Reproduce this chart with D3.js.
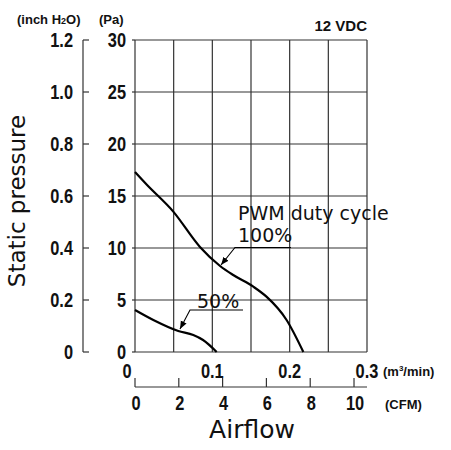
<!DOCTYPE html>
<html>
<head>
<meta charset="utf-8">
<script src="https://cdn.jsdelivr.net/npm/d3@7"></script>
<style>
  body { margin: 0; background: #fff; }
  .tick-label { font-family: "Liberation Sans", sans-serif; font-weight: bold; font-size: 21px; fill: #111; }
  .unit { font-family: "Liberation Sans", sans-serif; font-weight: bold; font-size: 13px; fill: #111; }
  .title { font-family: "DejaVu Sans", sans-serif; fill: #111; }
</style>
</head>
<body>
<svg width="451" height="450"></svg>
<script>
// airflow in m3/min, static pressure in Pa
const flow100 = [0, 0.015, 0.0495, 0.084, 0.110, 0.127, 0.153, 0.170, 0.196, 0.2177];
const pres100 = [17.3, 16.1, 13.5, 10.1, 8.27, 7.4, 6.28, 5.32, 3.08, 0];
const flow50 = [0, 0.0237, 0.056, 0.0754, 0.088, 0.1056];
const pres50 = [4.04, 3.08, 2.02, 1.63, 1.15, 0];

const paTicks = [0, 5, 10, 15, 20, 25, 30];
const inchTicks = [0, 0.2, 0.4, 0.6, 0.8, 1.0, 1.2];
const m3Ticks = [0, 0.1, 0.2, 0.3];
const cfmTicks = [0, 2, 4, 6, 8, 10];

const svg = d3.select("svg");

const x = d3.scaleLinear().domain([0, 0.3]).range([135, 367]);
const xc = d3.scaleLinear().domain([0, 0.3 * 35.31]).range([135, 367]);
const y = d3.scaleLinear().domain([0, 30]).range([352, 40]);
const yi = d3.scaleLinear().domain([0, 1.2]).range([352, 40]);

// condensed look: squeeze the text horizontally around its anchor
const narrow = (px, py) => `translate(${px},${py}) scale(0.78,1)`;

// grid
const grid = svg.append("g").attr("stroke", "#333").attr("stroke-width", 1.2);
d3.range(0, 0.3001, 0.05).forEach(v => {
  grid.append("line").attr("x1", x(v)).attr("x2", x(v)).attr("y1", y(0)).attr("y2", y(30));
});
paTicks.forEach(v => {
  grid.append("line").attr("x1", x(0)).attr("x2", x(0.3)).attr("y1", y(v)).attr("y2", y(v));
  grid.append("line").attr("x1", x(0) - 3).attr("x2", x(0)).attr("y1", y(v)).attr("y2", y(v));
});

// Pa labels
svg.append("g").selectAll("text").data(paTicks).join("text")
  .attr("class", "tick-label")
  .attr("transform", d => narrow(126, y(d) + 7))
  .attr("text-anchor", "end")
  .text(d => d);

// inch H2O axis
const inch = svg.append("g").attr("stroke", "#333").attr("stroke-width", 1.2);
inch.append("line").attr("x1", 83).attr("x2", 83).attr("y1", yi(0)).attr("y2", yi(1.2));
inchTicks.forEach(v => {
  inch.append("line").attr("x1", 83).attr("x2", 89).attr("y1", yi(v)).attr("y2", yi(v));
});
svg.append("g").selectAll("text").data(inchTicks).join("text")
  .attr("class", "tick-label")
  .attr("transform", d => narrow(73, yi(d) + 7))
  .attr("text-anchor", "end")
  .text(d => d === 0 ? "0" : d.toFixed(1));

// m3/min labels
svg.append("g").selectAll("text").data(m3Ticks).join("text")
  .attr("class", "tick-label")
  .attr("transform", d => narrow(d === 0 ? x(d) - 8 : x(d), 378))
  .attr("text-anchor", "middle")
  .text(d => d === 0 ? "0" : d.toFixed(1));

// CFM axis
const cfm = svg.append("g").attr("stroke", "#333").attr("stroke-width", 1.2);
cfm.append("line").attr("x1", xc(0)).attr("x2", 367).attr("y1", 387).attr("y2", 387);
cfmTicks.forEach(v => {
  cfm.append("line").attr("x1", xc(v)).attr("x2", xc(v)).attr("y1", 378).attr("y2", 387);
});
svg.append("g").selectAll("text").data(cfmTicks).join("text")
  .attr("class", "tick-label")
  .attr("transform", d => narrow(xc(d) + 1, 410))
  .attr("text-anchor", "middle")
  .text(d => d);

// unit labels
const inchLbl = svg.append("text").attr("class", "unit").attr("x", 17).attr("y", 24);
inchLbl.append("tspan").text("(inch H");
inchLbl.append("tspan").style("font-size", "9px").text("2");
inchLbl.append("tspan").text("O)");
svg.append("text").attr("class", "unit").attr("x", 99).attr("y", 24).text("(Pa)");

svg.append("text").attr("class", "unit").attr("x", 367).attr("y", 31)
  .attr("text-anchor", "end")
  .style("font-size", "15px").style("font-weight", "600").text("12 VDC");

const m3 = svg.append("text").attr("class", "unit").attr("x", 383).attr("y", 376);
m3.append("tspan").text("(m");
m3.append("tspan").style("font-size", "8px").attr("dy", -5).text("3");
m3.append("tspan").attr("dy", 5).text("/min)");
svg.append("text").attr("class", "unit").attr("x", 385).attr("y", 409).text("(CFM)");

// axis titles
svg.append("text").attr("class", "title").attr("font-size", 23)
  .attr("transform", "translate(25,201) rotate(-90)")
  .attr("text-anchor", "middle").text("Static pressure");
svg.append("text").attr("class", "title").attr("font-size", 25)
  .attr("x", 252).attr("y", 438).attr("text-anchor", "middle").text("Airflow");

// curves
const line = d3.line().x(d => x(d[0])).y(d => y(d[1])).curve(d3.curveMonotoneX);
svg.append("path").datum(d3.zip(flow100, pres100))
  .attr("d", line).attr("fill", "none").attr("stroke", "#000").attr("stroke-width", 2.2);
svg.append("path").datum(d3.zip(flow50, pres50))
  .attr("d", line).attr("fill", "none").attr("stroke", "#000").attr("stroke-width", 2.2);

// annotations
svg.append("text").attr("class", "title").attr("font-size", 19)
  .attr("x", 238).attr("y", 220).text("PWM duty cycle");
svg.append("text").attr("class", "title").attr("font-size", 19)
  .attr("x", 238).attr("y", 242).text("100%");
svg.append("text").attr("class", "title").attr("font-size", 19)
  .attr("x", 197).attr("y", 308).text("50%");

svg.append("defs").append("marker")
  .attr("id", "arr").attr("viewBox", "0 0 10 10").attr("refX", 10).attr("refY", 5)
  .attr("markerWidth", 8).attr("markerHeight", 8).attr("markerUnits", "userSpaceOnUse")
  .attr("orient", "auto")
  .append("path").attr("d", "M0,1 L10,5 L0,9 Z").attr("fill", "#000");

const ann = svg.append("g").attr("stroke", "#000").attr("stroke-width", 1.1).attr("fill", "none");
ann.append("polyline").attr("points", "291,247.5 235,247.5 221,265").attr("marker-end", "url(#arr)");
ann.append("polyline").attr("points", "243,310 190,310 180,329").attr("marker-end", "url(#arr)");
</script>
</body>
</html>
